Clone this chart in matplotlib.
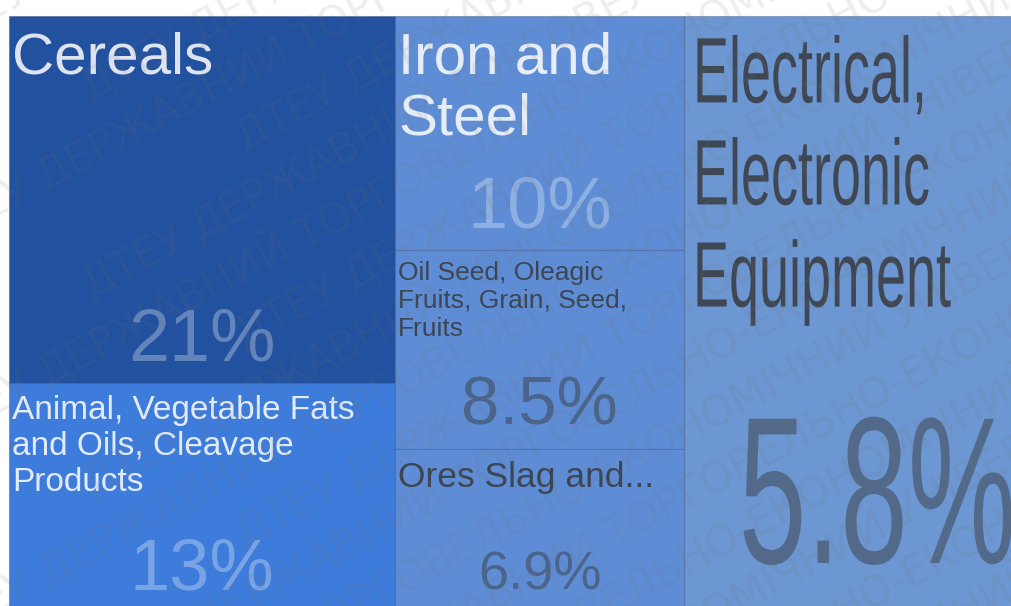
import math
import matplotlib
matplotlib.use("Agg")
import matplotlib.pyplot as plt
from matplotlib.font_manager import FontProperties
from matplotlib.patches import Rectangle
from matplotlib.patheffects import AbstractPathEffect
from matplotlib.transforms import Affine2D

# trade shares by product group (percent)
labels = ["Cereals",
          "Animal, Vegetable Fats\nand Oils, Cleavage\nProducts",
          "Iron and\nSteel",
          "Oil Seed, Oleagic\nFruits, Grain, Seed,\nFruits",
          "Ores Slag and...",
          "Electrical,\nElectronic\nEquipment"]
shares = [21, 13, 10, 8.5, 6.9, 5.8]
column = [0, 0, 1, 1, 1, 2]

# styling per tile
colors = ["#22519f", "#3e7cdb", "#5e8dd5", "#5e8dd5", "#5e8dd5", "#6c97d2"]
light_text = [True, True, True, False, False, False]
label_size = [42, 24, 42, 19, 25.5, 67]
label_spacing = [1.18, 1.21, 1.18, 1.2, 1.2, 1.24]
pct_size = [53, 52, 52, 49.5, 39, 151]
pct_pad = [22, 20, 22, 24, 21, 47]
squeeze = [1, 1, 1, 1, 1, 0.58]

WM_TEXT = "ДТЕУ ДЕРЖАВНИЙ ТОРГОВЕЛЬНО-ЕКОНОМІЧНИЙ УНІВЕРСИТЕТ "
WM_ANGLE = 28


class Squeeze(AbstractPathEffect):
    """Narrow the glyphs horizontally, about the line start or its centre."""

    def __init__(self, sx, about="left"):
        super().__init__()
        self.sx = sx
        self.about = about

    def draw_path(self, renderer, gc, tpath, affine, rgbFace=None):
        if self.about == "center":
            ext = tpath.get_extents()
            cx = (ext.x0 + ext.x1) / 2
        else:
            cx = 0
        sq = Affine2D().translate(-cx, 0).scale(self.sx, 1).translate(cx, 0)
        renderer.draw_path(gc, tpath, sq + affine, rgbFace)


def layout(values, cols, left, top, height, width_01):
    """Slice-and-dice: columns side by side, tiles stacked inside each column."""
    ncol = max(cols) + 1
    sums = [sum(v for v, c in zip(values, cols) if c == k) for k in range(ncol)]
    k = width_01 / (sums[0] + sums[1])
    widths = [s * k for s in sums[:-1]]
    widths.append(widths[0])  # last column runs off the right edge
    rects = []
    used = [0.0] * ncol
    for v, c in zip(values, cols):
        x = left + sum(widths[:c])
        h = height * v / sums[c]
        if c == ncol - 1:
            h = height
        rects.append((x, top + used[c], widths[c], h))
        used[c] += h
    return rects


def add_watermark(fig, ax):
    """Tile the university name in diagonal rows over the whole figure."""
    prop = FontProperties(family="DejaVu Sans", size=30)
    renderer = fig.canvas.get_renderer()
    w, _, _ = renderer.get_text_width_height_descent(WM_TEXT, prop, ismath=False)
    ca, sa = math.cos(math.radians(WM_ANGLE)), math.sin(math.radians(WM_ANGLE))
    for i, y0 in enumerate(range(0, 1320, 66)):
        # shift each row along its own direction so the words don't line up
        t = -(i * 173) % 520 - 80
        x, y = t * ca, y0 - t * sa
        while x < 1100 and y > -80:
            ax.text(x, y, WM_TEXT, rotation=WM_ANGLE, rotation_mode="anchor",
                    ha="left", va="center", fontproperties=prop,
                    color=(0.45, 0.45, 0.45, 0.12), zorder=10, clip_on=True)
            x += w * ca
            y -= w * sa


def main():
    fig = plt.figure(figsize=(10.12, 6.06), dpi=100)
    ax = fig.add_axes([0, 0, 1, 1])
    ax.set_xlim(0, 1012)
    ax.set_ylim(606, 0)
    ax.axis("off")

    rects = layout(shares, column, left=9, top=16, height=594, width_01=675)
    font = ["Liberation Sans", "DejaVu Sans"]

    for i, (x, y, w, h) in enumerate(rects):
        ax.add_patch(Rectangle((x, y), w, h, facecolor=colors[i],
                               edgecolor=(0.15, 0.25, 0.45, 0.35), lw=0.8))
        if light_text[i]:
            lab_c, pct_c = (1, 1, 1, 0.85), (1, 1, 1, 0.3)
        else:
            lab_c, pct_c = (0.2, 0.2, 0.2, 0.8), (0.2, 0.2, 0.2, 0.45)

        fx_l = [Squeeze(squeeze[i])] if squeeze[i] != 1 else None
        fx_c = [Squeeze(squeeze[i], "center")] if squeeze[i] != 1 else None
        pad_top = 8 + 0.17 * label_size[i]
        pad_left = 3 if squeeze[i] == 1 else 9
        ax.text(x + pad_left, y + pad_top, labels[i], fontsize=label_size[i],
                color=lab_c, family=font, ha="left", va="top",
                linespacing=label_spacing[i], path_effects=fx_l)
        ax.text(x + w / 2, y + h - pct_pad[i], f"{shares[i]:g}%",
                fontsize=pct_size[i], color=pct_c, family=font,
                ha="center", va="baseline", path_effects=fx_c, clip_on=True)

    add_watermark(fig, ax)
    fig.savefig("out.png", dpi=100)


if __name__ == "__main__":
    main()
